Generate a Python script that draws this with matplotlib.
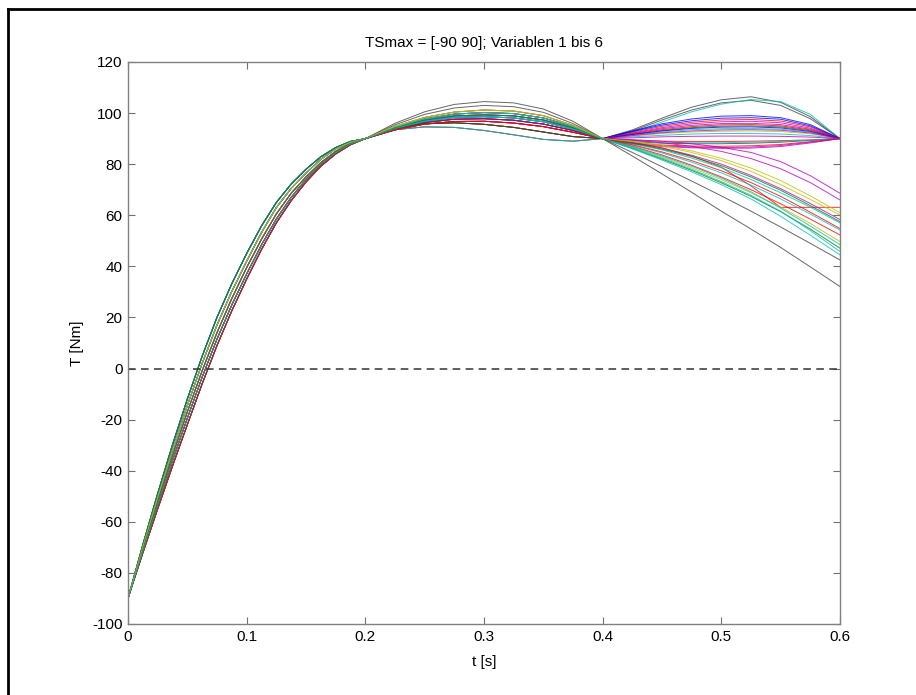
import matplotlib
matplotlib.use('Agg')
import matplotlib.pyplot as plt
from matplotlib.lines import Line2D

# time samples of the three sections (s)
t_a = [0.0, 0.0125, 0.025, 0.0375, 0.05, 0.0625, 0.075, 0.0875, 0.1,
       0.1125, 0.125, 0.1375, 0.15, 0.1625, 0.175, 0.1875, 0.2]
t_b = [0.2, 0.225, 0.25, 0.275, 0.3, 0.325, 0.35, 0.375, 0.4]
t_c = [0.4, 0.425, 0.45, 0.475, 0.5, 0.525, 0.55, 0.575, 0.6]

# section 1: -90 Nm -> 90 Nm
rise = [
    [-90, -70.6, -52.0, -34.1, -17.0, -0.9, 14.0, 27.4, 39.5,
     50.6, 60.5, 68.6, 75.0, 80.6, 85.0, 88.1, 90],
    [-90, -69.0, -49.0, -29.9, -12.0, 4.8, 20.0, 33.2, 45.0,
     55.8, 65.0, 72.2, 78.0, 82.9, 86.5, 88.9, 90],
    [-90, -72.2, -55.0, -38.2, -22.0, -6.0, 9.0, 22.6, 35.0,
     46.6, 57.0, 65.7, 73.0, 79.2, 84.0, 87.6, 90],
    [-90, -69.8, -50.5, -32.0, -14.5, 2.0, 17.0, 30.2, 42.0,
     53.2, 63.0, 70.5, 76.5, 81.9, 86.0, 88.6, 90],
    [-90, -71.4, -53.5, -36.1, -19.5, -3.4, 11.5, 24.9, 37.0,
     48.4, 58.5, 67.0, 74.0, 79.9, 84.5, 87.9, 90],
]

# section 2: 90 Nm -> 90 Nm
hump = [
    [90, 96.0, 100.5, 103.4, 104.5, 104.0, 101.6, 96.8, 90],
    [90, 95.4, 99.5, 102.0, 103.0, 102.5, 100.3, 95.9, 90],
    [90, 94.8, 98.3, 100.4, 101.2, 100.8, 99.0, 95.2, 90],
    [90, 94.5, 97.7, 99.6, 100.2, 99.8, 98.1, 94.7, 90],
    [90, 94.2, 97.2, 98.9, 99.3, 98.9, 97.3, 94.2, 90],
    [90, 94.0, 96.8, 98.3, 98.6, 98.1, 96.6, 93.8, 90],
    [90, 93.7, 96.3, 97.6, 97.8, 97.2, 95.7, 93.2, 90],
    [90, 93.4, 95.7, 96.7, 96.8, 96.1, 94.7, 92.5, 90],
    [90, 94.0, 95.8, 96.2, 95.6, 94.4, 92.6, 90.8, 90],
    [90, 93.5, 94.6, 94.4, 93.2, 91.5, 89.7, 89.0, 90],
]

# section 3: curves back to 90 Nm
top_end = [
    [90, 93.4, 98.0, 102.3, 105.2, 106.4, 104.2, 98.6, 90],
    [90, 93.0, 97.3, 101.2, 104.0, 105.0, 103.0, 97.8, 90],
    [90, 92.6, 96.5, 100.5, 103.5, 105.3, 104.5, 99.5, 90],
]
flat_end = [
    [90, 93.0, 95.8, 97.7, 98.8, 99.0, 98.2, 95.5, 90],
    [90, 92.5, 94.8, 96.4, 97.3, 97.5, 96.9, 94.6, 90],
    [90, 92.0, 93.9, 95.2, 95.9, 96.0, 95.5, 93.7, 90],
    [90, 91.7, 93.2, 94.3, 94.9, 95.0, 94.6, 93.1, 90],
    [90, 91.4, 92.6, 93.5, 93.9, 94.0, 93.7, 92.5, 90],
    [90, 91.0, 92.0, 92.6, 92.9, 93.0, 92.8, 91.9, 90],
    [90, 90.7, 91.3, 91.8, 92.0, 92.0, 91.8, 91.2, 90],
    [90, 90.3, 90.7, 90.9, 91.0, 91.0, 90.9, 90.6, 90],
    [90, 89.3, 89.0, 88.9, 88.9, 89.0, 89.2, 89.5, 90],
    [90, 88.8, 88.2, 88.0, 88.0, 88.2, 88.6, 89.3, 90],
    [90, 88.0, 86.9, 86.4, 86.2, 86.3, 86.9, 88.3, 90],
    [90, 92.8, 95.3, 97.0, 98.0, 98.2, 97.6, 95.0, 90],
    [90, 92.2, 94.3, 95.8, 96.6, 96.8, 96.2, 94.1, 90],
    [90, 91.8, 93.5, 94.7, 95.4, 95.5, 95.0, 93.4, 90],
    [90, 91.6, 93.0, 94.0, 94.5, 94.6, 94.2, 92.8, 90],
    [90, 91.2, 92.3, 93.0, 93.4, 93.5, 93.3, 92.2, 90],
    [90, 89.0, 88.6, 88.4, 88.4, 88.6, 88.9, 89.4, 90],
    [90, 88.4, 87.5, 87.1, 87.0, 87.2, 87.7, 88.8, 90],
    [90, 88.2, 87.2, 86.7, 86.5, 86.7, 87.3, 88.6, 90],
]
# section 3: curves falling below 90 Nm
fall_end = [
    [90, 89.6, 89.0, 88.0, 86.6, 84.6, 81.0, 75.5, 68.6],
    [90, 89.4, 88.4, 87.0, 85.0, 82.2, 78.2, 72.8, 66.0],
    [90, 88.6, 86.4, 83.2, 78.8, 71.5, 63.1, 63.1, 63.1],
    [90, 88.8, 87.0, 84.6, 81.4, 77.2, 72.0, 66.2, 60.1],
    [90, 88.4, 86.3, 83.5, 80.0, 75.6, 70.4, 64.6, 58.3],
    [90, 88.0, 85.6, 82.4, 78.6, 74.0, 68.8, 63.2, 57.0],
    [90, 87.4, 84.4, 80.8, 76.6, 71.8, 66.4, 60.5, 54.2],
    [90, 87.0, 83.6, 79.6, 75.0, 70.0, 64.5, 58.5, 52.3],
    [90, 86.6, 82.8, 78.6, 74.0, 68.8, 63.2, 56.8, 49.7],
    [90, 86.8, 83.2, 79.2, 74.6, 69.2, 62.8, 55.8, 48.5],
    [90, 86.2, 82.0, 77.6, 72.7, 67.4, 61.4, 54.6, 47.1],
    [90, 86.0, 81.6, 77.0, 72.0, 66.4, 59.6, 52.2, 44.5],
    [90, 84.6, 79.0, 73.4, 67.6, 61.6, 55.4, 49.0, 42.5],
    [90, 83.2, 76.2, 69.0, 61.6, 54.6, 47.4, 39.8, 32.1],
    [90, 88.2, 85.9, 83.0, 79.4, 75.0, 69.8, 63.8, 57.5],
    [90, 87.6, 84.8, 81.4, 77.4, 72.8, 67.4, 61.2, 54.8],
    [90, 89.0, 87.4, 85.2, 82.3, 78.5, 73.6, 67.6, 61.0],
    [90, 86.4, 82.4, 78.0, 73.2, 67.8, 61.6, 54.0, 45.8],
]

# which rise / hump section goes with each end section
top_rise = [1, 0, 3]
top_hump = [0, 1, 2]
flat_rise = [0, 1, 2, 3, 4, 0, 1, 2, 3, 4, 0, 1, 2, 3, 4, 0, 1, 2, 3]
flat_hump = [3, 4, 5, 6, 7, 8, 9, 3, 4, 5, 6, 7, 8, 9, 3, 4, 5, 6, 7]
fall_rise = [2, 3, 4, 0, 1, 2, 3, 4, 0, 1, 2, 3, 4, 0, 1, 2, 3, 4]
fall_hump = [2, 5, 8, 3, 6, 9, 4, 7, 2, 5, 8, 3, 6, 8, 4, 7, 2, 5]

# old matlab colour order
mcol = {'b': (0, 0, 1), 'g': (0, 0.5, 0), 'r': (1, 0, 0),
        'c': (0, 0.75, 0.75), 'm': (0.75, 0, 0.75),
        'y': (0.75, 0.75, 0), 'k': (0.25, 0.25, 0.25)}
top_colors = 'kkc'
flat_colors = 'brmgcycmrkm' + 'bmrbmcrm'
fall_colors = 'mmrymccrycgckk' + 'gryc'

plt.rcParams['font.family'] = ['Liberation Sans', 'DejaVu Sans']
plt.rcParams['axes.unicode_minus'] = False
fig = plt.figure(figsize=(9.16, 6.95), dpi=100)
ax = fig.add_axes([0.1397, 0.1022, 0.7773, 0.8086])

t_all = t_a + t_b[1:] + t_c[1:]
groups = [(top_end, top_rise, top_hump, top_colors),
          (flat_end, flat_rise, flat_hump, flat_colors),
          (fall_end, fall_rise, fall_hump, fall_colors)]
for ends, ir, ih, cols in groups:
    for end, a, b, col in zip(ends, ir, ih, cols):
        y = rise[a] + hump[b][1:] + end[1:]
        ax.plot(t_all, y, color=mcol[col], lw=0.7, alpha=0.8)

ax.axhline(0, color='#333333', lw=1.1, ls=(0, (5, 3.5)))

ax.set_xlim(0, 0.6)
ax.set_ylim(-100, 120)
ax.set_xticks([0, 0.1, 0.2, 0.3, 0.4, 0.5, 0.6])
ax.set_xticklabels(['0', '0.1', '0.2', '0.3', '0.4', '0.5', '0.6'])
ax.set_yticks(range(-100, 121, 20))
ax.tick_params(direction='in', length=5, width=0.8, color='#707070',
               top=True, right=True, labelsize=11, pad=4)
for sp in ax.spines.values():
    sp.set_color('#808080')
    sp.set_linewidth(1.0)

ax.set_title('TSmax = [-90 90]; Variablen 1 bis 6', fontsize=11, pad=11)
ax.set_xlabel('t [s]', fontsize=11, labelpad=8)
ax.set_ylabel('T [Nm]', fontsize=11, labelpad=6)

# frame of the scanned page
fig.add_artist(Line2D([0.009, 1.0], [0.987, 0.987], color='black', lw=2))
fig.add_artist(Line2D([0.009, 0.009], [0.0, 0.987], color='black', lw=2))

fig.savefig('out.png', dpi=100)
